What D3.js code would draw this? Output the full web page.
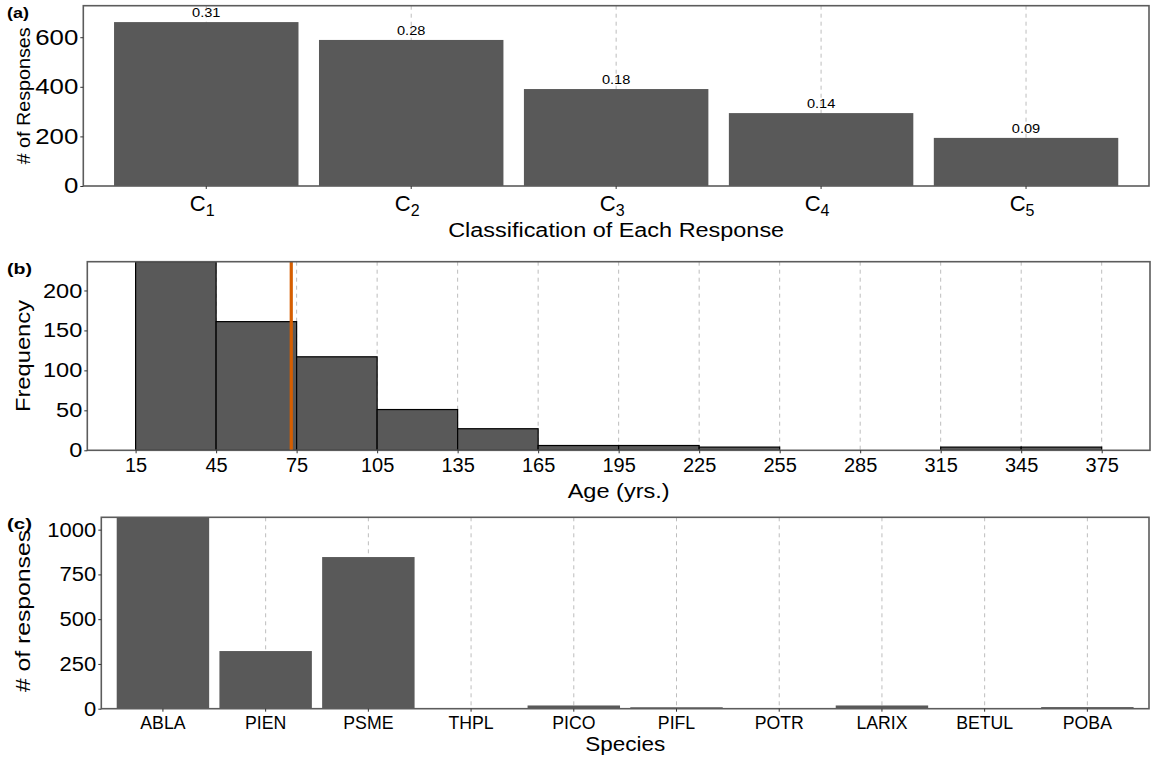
<!DOCTYPE html>
<html><head><meta charset="utf-8">
<script src="https://cdn.jsdelivr.net/npm/d3@7"></script>
<style>
body{margin:0;background:#fff}
svg{display:block}
text{font-family:"Liberation Sans",Arial,Helvetica,sans-serif;fill:#000}
</style>
</head><body>
<svg id="chart" width="1152" height="761"></svg>
<script>
// ---- Panel (a) data ----
const classCats = ["1","2","3","4","5"];
const classCounts = [661, 589, 391, 294, 194];
const classProps = ["0.31","0.28","0.18","0.14","0.09"];
const classYTicks = [0, 200, 400, 600];

// ---- Panel (b) data ----
const ageBinEdges = [15,45,75,105,135,165,195,225,255,285,315,345,375];
const ageCounts = [236,161,117,51,27,6,6,4,0,0,4,4];
const ageMean = 73;
const ageTicks = [15,45,75,105,135,165,195,225,255,285,315,345,375];
const ageYTicks = [0, 50, 100, 150, 200];

// ---- Panel (c) data ----
const species = ["ABLA","PIEN","PSME","THPL","PICO","PIFL","POTR","LARIX","BETUL","POBA"];
const speciesCounts = [1069, 322, 847, 3, 18, 8, 2, 18, 2, 9];
const speciesYTicks = [0, 250, 500, 750, 1000];

const svg = d3.select("#chart");
const BAR = "#595959", GRID = "#bdbdbd", BORDER = "#5c5c5c";

function stretch(sel, f) {
  sel.each(function() {
    const L = this.getComputedTextLength();
    d3.select(this).attr("textLength", L * f).attr("lengthAdjust", "spacingAndGlyphs");
  });
}
function fitLen(sel, len) {
  sel.attr("textLength", len).attr("lengthAdjust", "spacingAndGlyphs");
}
function styleAxis(g) {
  g.select(".domain").remove();
  g.selectAll(".tick line").attr("stroke", "#333").attr("stroke-width", 1);
}
function border(g, L, R, T, B) {
  g.append("rect").attr("x", L).attr("y", T).attr("width", R - L).attr("height", B - T)
    .attr("fill", "none").attr("stroke", BORDER).attr("stroke-width", 1.6);
}
function vgrid(g, xs, T, B) {
  g.selectAll(null).data(xs).join("line")
    .attr("x1", d => d).attr("x2", d => d).attr("y1", T).attr("y2", B)
    .attr("stroke", GRID).attr("stroke-width", 1).attr("stroke-dasharray", "4,4");
}
function panelLabel(txt, y, len) {
  const t = svg.append("text").attr("x", 7).attr("y", y).attr("font-size", 15.5)
    .attr("font-weight", "bold").text(txt);
  fitLen(t, len);
}

// ================= Panel (a) =================
(function() {
  const L = 83.3, R = 1149, T = 5.7, B = 186;
  const g = svg.append("g");
  const x = d3.scaleBand().domain(classCats).range([L, R]).paddingInner(0.1).paddingOuter(0.15);
  const y = d3.scaleLinear().domain([0, d3.max(classCounts) * 1.1]).range([B, T]);
  vgrid(g, classCats.map(c => x(c) + x.bandwidth() / 2), T, B);
  g.selectAll(".bar").data(classCats).join("rect")
    .attr("x", c => x(c)).attr("width", x.bandwidth())
    .attr("y", (c, i) => y(classCounts[i])).attr("height", (c, i) => B - y(classCounts[i]))
    .attr("fill", BAR);
  g.selectAll(".lab").data(classCats).join("text")
    .attr("x", c => x(c) + x.bandwidth() / 2).attr("y", (c, i) => y(classCounts[i]) - 5)
    .attr("text-anchor", "middle").attr("font-size", 13.5).text((c, i) => classProps[i])
    .call(stretch, 1.08);
  border(g, L, R, T, B);
  const ya = g.append("g").attr("transform", `translate(${L},0)`)
    .call(d3.axisLeft(y).tickValues(classYTicks).tickSize(3).tickPadding(2).tickFormat(d3.format("d")));
  styleAxis(ya);
  ya.selectAll(".tick text").attr("font-size", 21.5).attr("fill", "#000").call(stretch, 1.2);
  const xa = g.append("g").attr("transform", `translate(0,${B})`)
    .call(d3.axisBottom(x).tickSize(3).tickFormat(""));
  styleAxis(xa);
  const lbl = g.selectAll(".xl").data(classCats).join("text")
    .attr("x", c => x(c) + x.bandwidth() / 2 - 4).attr("y", 210.5)
    .attr("text-anchor", "middle").attr("font-size", 22);
  lbl.append("tspan").text("C");
  lbl.append("tspan").attr("font-size", 16).attr("dy", 5.5).text(c => c);
  const xt = g.append("text").attr("x", (L + R) / 2).attr("y", 237).attr("text-anchor", "middle")
    .attr("font-size", 20).text("Classification of Each Response");
  fitLen(xt, 336);
  const yt = g.append("text").attr("transform", `translate(30,${(T + B) / 2}) rotate(-90)`)
    .attr("text-anchor", "middle").attr("font-size", 18).text("# of Responses");
  fitLen(yt, 137);
  panelLabel("(a)", 18, 22);
})();

// ================= Panel (b) =================
(function() {
  const L = 87.3, R = 1150, T = 261.7, B = 450.3;
  const g = svg.append("g");
  const x = d3.scaleLinear().domain([-3, 393]).range([L, R]);
  const y = d3.scaleLinear().domain([0, 236]).range([B, T]);
  svg.append("clipPath").attr("id", "clipb").append("rect")
    .attr("x", L).attr("y", T).attr("width", R - L).attr("height", B - T);
  vgrid(g, ageTicks.map(x), T, B);
  const bins = ageCounts.map((c, i) => ({x0: ageBinEdges[i], x1: ageBinEdges[i + 1], n: c}));
  g.append("g").attr("clip-path", "url(#clipb)").selectAll("rect").data(bins).join("rect")
    .attr("x", d => x(d.x0)).attr("width", d => x(d.x1) - x(d.x0))
    .attr("y", d => y(d.n)).attr("height", d => B - y(d.n))
    .attr("fill", BAR).attr("stroke", "#000").attr("stroke-width", 1.2);
  g.append("line").attr("x1", x(ageMean)).attr("x2", x(ageMean)).attr("y1", T).attr("y2", B)
    .attr("stroke", "#D55E00").attr("stroke-width", 3.2);
  border(g, L, R, T, B);
  const ya = g.append("g").attr("transform", `translate(${L},0)`)
    .call(d3.axisLeft(y).tickValues(ageYTicks).tickSize(3).tickPadding(2).tickFormat(d3.format("d")));
  styleAxis(ya);
  ya.selectAll(".tick text").attr("font-size", 20.5).attr("fill", "#000").call(stretch, 1.15);
  const xa = g.append("g").attr("transform", `translate(0,${B})`)
    .call(d3.axisBottom(x).tickValues(ageTicks).tickSize(3).tickPadding(4).tickFormat(d3.format("d")));
  styleAxis(xa);
  xa.selectAll(".tick text").attr("font-size", 20).attr("fill", "#000").attr("dy", null).attr("y", 21.3);
  const xt = g.append("text").attr("x", (L + R) / 2).attr("y", 498).attr("text-anchor", "middle")
    .attr("font-size", 21).text("Age (yrs.)");
  fitLen(xt, 102);
  const yt = g.append("text").attr("transform", `translate(29.5,${(T + B) / 2}) rotate(-90)`)
    .attr("text-anchor", "middle").attr("font-size", 20).text("Frequency");
  fitLen(yt, 112);
  panelLabel("(b)", 274, 25);
})();

// ================= Panel (c) =================
(function() {
  const L = 101.3, R = 1149, T = 517.3, B = 708.7;
  const g = svg.append("g");
  const x = d3.scaleBand().domain(species).range([L, R]).paddingInner(0.1).paddingOuter(0.15);
  const y = d3.scaleLinear().domain([0, 1069]).range([B, T]);
  vgrid(g, species.map(s => x(s) + x.bandwidth() / 2), T, B);
  g.selectAll(".bar").data(species).join("rect")
    .attr("x", s => x(s)).attr("width", x.bandwidth())
    .attr("y", (s, i) => y(speciesCounts[i])).attr("height", (s, i) => B - y(speciesCounts[i]))
    .attr("fill", BAR);
  border(g, L, R, T, B);
  const ya = g.append("g").attr("transform", `translate(${L},0)`)
    .call(d3.axisLeft(y).tickValues(speciesYTicks).tickSize(3).tickPadding(2).tickFormat(d3.format("d")));
  styleAxis(ya);
  ya.selectAll(".tick text").attr("font-size", 20).attr("fill", "#000").call(stretch, 1.1);
  const xa = g.append("g").attr("transform", `translate(0,${B})`)
    .call(d3.axisBottom(x).tickSize(3).tickPadding(4));
  styleAxis(xa);
  xa.selectAll(".tick text").attr("font-size", 17.7).attr("fill", "#000").attr("dy", null).attr("y", 20.6);
  const xt = g.append("text").attr("x", (L + R) / 2).attr("y", 751).attr("text-anchor", "middle")
    .attr("font-size", 21).text("Species");
  fitLen(xt, 80);
  const yt = g.append("text").attr("transform", `translate(29.5,${(T + B) / 2 - 2}) rotate(-90)`)
    .attr("text-anchor", "middle").attr("font-size", 20).text("# of responses");
  fitLen(yt, 162);
  panelLabel("(c)", 529, 25);
})();
</script>
</body></html>
